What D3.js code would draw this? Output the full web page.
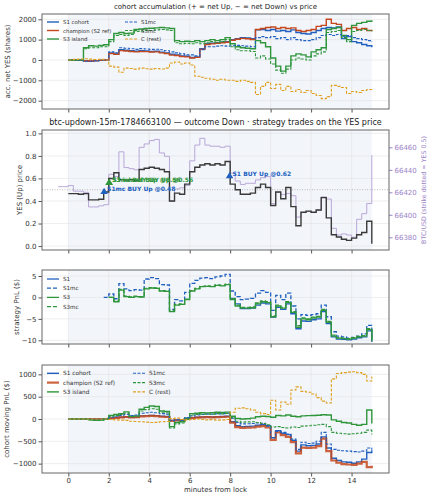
<!DOCTYPE html>
<html>
<head>
<meta charset="utf-8">
<script src="https://cdn.jsdelivr.net/npm/d3@7"></script>
<style>
  body { margin: 0; background: #fff; }
  text { font-family: "DejaVu Sans", sans-serif; }
</style>
</head>
<body>
<script>
// time grids (minutes from lock)
const minutes = d3.range(0, 15.001, 0.25)
const btcMinutes = d3.range(-0.5, 15.001, 0.25)
const pnlMinutes = d3.range(1.75, 15.001, 0.25)

// panel 1: accumulated net YES shares
const accS1 = [0, 0, -20, -50, -60, -40, -10, 0, 350, 300, 500, 480, 450, 430, 450, 440, 420, 430, 380, 350, 280, 250, 200, 180, 120, 150, 550, 800, 820, 850, 880, 900, 1000, 1050, 1100, 1080, 1050, 1480, 1500, 1450, 1500, 1420, 1450, 1400, 1480, 1350, 1300, 1280, 1350, 1450, 1550, 1600, 1580, 1620, 1050, 1150, 900, 850, 760, 700, 620]
const accChampion = [0, 0, -10, -40, -50, -30, -10, 0, 320, 280, 460, 440, 420, 400, 420, 410, 390, 400, 350, 320, 240, 220, 170, 150, 100, 130, 520, 760, 790, 820, 850, 870, 970, 1020, 1060, 1040, 1010, 1500, 1550, 1600, 1620, 1550, 1600, 1550, 1580, 1450, 1400, 1450, 1500, 1650, 1700, 2000, 1800, 1750, 1450, 1550, 1600, 1500, 1550, 1450, 1420]
const accS3 = [0, 0, 0, 600, 700, 680, 720, 750, 1000, 1300, 1350, 1300, 1320, 1500, 1520, 1550, 1560, 1580, 1600, 1580, 1550, 950, 900, 920, 900, 950, 900, 950, 1000, 950, 1000, 1100, 800, 650, 600, 580, 550, 950, 850, 650, 100, -300, -550, -300, 200, 300, 250, 150, 400, 500, 600, 1500, 1550, 1600, 1200, 1000, 1700, 1800, 1850, 1900, 1950]
const accS1mc = [0, 0, -20, -50, -60, -40, -10, 0, 400, 350, 600, 580, 550, 520, 560, 540, 520, 530, 500, 450, 400, 350, 300, 250, 250, 200, 500, 650, 650, 680, 700, 680, 700, 720, 700, 680, 650, 1100, 1150, 1100, 1150, 1050, 1100, 1000, 1100, 1000, 950, 950, 1000, 1100, 1200, 1250, 1200, 1250, 1150, 1200, 1100, 1050, 1000, 950, 900]
const accS3mc = [0, 0, 0, 550, 600, 600, 650, 650, 900, 1200, 1250, 1200, 1250, 1400, 1420, 1450, 1450, 1480, 1500, 1480, 1450, 850, 800, 820, 800, 850, 800, 850, 900, 850, 900, 1000, 650, 500, 450, 450, 420, 100, 200, 50, -200, -500, -650, -450, 0, 100, 50, 0, 200, 300, 400, 1350, 1400, 1450, 1100, 900, 1400, 1450, 1500, 1450, 1400]
const accRest = [0, 30, 50, 60, 40, 20, 30, 0, -300, -350, -600, -400, -420, -450, -400, -430, -450, -420, -440, -400, -150, -100, -200, -150, -250, -800, -850, -900, -950, -1000, -950, -1000, -1000, -1050, -1000, -1050, -1100, -1700, -1300, -1100, -1400, -1200, -1500, -1300, -1550, -1450, -1600, -1500, -1650, -1750, -1900, -1800, -1250, -1300, -1350, -1650, -1550, -1600, -1500, -1450, -1400]

// panel 2: YES price and BTC
const yesPrice = [0.465, 0.465, 0.46, 0.465, 0.41, 0.41, 0.415, 0.48, 0.6, 0.65, 0.59, 0.585, 0.59, 0.58, 0.68, 0.69, 0.7, 0.69, 0.68, 0.66, 0.4, 0.47, 0.46, 0.55, 0.66, 0.7, 0.72, 0.73, 0.72, 0.73, 0.72, 0.75, 0.55, 0.5, 0.46, 0.46, 0.47, 0.52, 0.55, 0.52, 0.36, 0.48, 0.42, 0.52, 0.35, 0.18, 0.3, 0.31, 0.3, 0.32, 0.43, 0.25, 0.1, 0.08, 0.06, 0.05, 0.07, 0.1, 0.12, 0.22, 0.02]
const btcUsd = [66425, 66425, 66426, 66421, 66421, 66420, 66407, 66407, 66408, 66409, 66436, 66434, 66456, 66442, 66441, 66440, 66460, 66463, 66466, 66467, 66455, 66452, 66412, 66423, 66424, 66426, 66448, 66462, 66468, 66462, 66461, 66461, 66460, 66461, 66437, 66430, 66427, 66428, 66428, 66431, 66433, 66434, 66410, 66420, 66418, 66419, 66417, 66398, 66402, 66403, 66402, 66404, 66416, 66414, 66388, 66382, 66383, 66382, 66380, 66396, 66401, 66410, 66453]
const tradeLabels = ['S1mc BUY Up @0.48', 'S3 island BUY Up @0.56', 'S3mc BUY Up @0.56', 'S1 BUY Up @0.62']
const tradeMinutes = [1.77, 2.02, 2.02, 7.97]
const tradePrices = [0.48, 0.56, 0.56, 0.62]
const tradeSide = ['S1', 'S3', 'S3', 'S1']

// panel 3: strategy PnL ($)
const pnlS1 = [null, null, null, null, null, null, null, null, null, null, null, null, null, null, null, null, null, null, null, null, null, null, null, null, null, -0.2, -1.5, -2.6, -2.6, -2.5, -1.8, -1.3, -1.5, -4.6, -2.3, -2.8, -1.5, -3.8, -7.3, -5.5, -5.6, -5.2, -5.0, -3.3, -6.1, -9.2, -9.7, -9.8, -9.9, -9.7, -9.4, -9.2, -7.8, -10.4]
const pnlS1mc = [0, 0.8, -0.3, 3.2, 2.0, 1.6, 1.8, 1.7, 4.3, 4.6, 4.4, 3.0, 2.9, -2.8, -0.5, -0.8, 1.2, 3.3, 4.0, 4.5, 4.6, 4.4, 4.8, 5.0, 5.4, 1.5, 0.2, -0.5, -0.4, -0.2, 1.0, 1.6, 1.2, -3.0, 0.5, -0.5, 1.0, -2.0, -5.0, -4.0, -4.2, -4.0, -3.8, -1.8, -4.5, -8.0, -9.0, -9.2, -9.5, -9.3, -9.0, -8.5, -6.5, -10.0]
const pnlS3 = [null, 0, -1.0, 1.7, 0.2, 0.0, 0.2, 0.1, 2.0, 2.2, 2.1, 1.5, 1.4, -3.3, -1.8, -1.6, -0.5, 1.5, 2.0, 2.5, 2.6, 2.5, 2.8, 2.7, 3.0, -0.5, -2.0, -2.5, -2.5, -2.4, -1.5, -1.0, -1.2, -4.5, -2.0, -2.5, -1.2, -3.5, -7.0, -5.0, -5.2, -4.8, -4.6, -3.0, -5.8, -9.0, -9.5, -9.6, -9.7, -9.5, -9.2, -9.0, -7.5, -10.2]
const pnlS3mc = [null, 0, -0.8, 1.9, 0.3, 0.1, 0.3, 0.2, 2.1, 2.3, 2.2, 1.6, 1.5, -3.1, -1.6, -1.5, -0.4, 1.6, 2.1, 2.6, 2.7, 2.6, 2.9, 2.8, 3.1, -0.3, -1.8, -2.3, -2.3, -2.2, -1.3, -0.8, -1.0, -4.3, -1.8, -2.3, -1.0, -3.3, -6.6, -4.8, -5.0, -4.6, -4.4, -2.8, -5.6, -8.8, -9.4, -9.5, -9.6, -9.4, -9.1, -8.9, -7.3, -10.0]

// panel 4: cohort moving PnL ($)
const movS1 = [0, 0, 0, 0, 0, 0, 0, 0, 20, 30, 40, 50, 40, 45, 70, 75, 80, 75, 60, 55, -30, -20, -25, 10, 30, 40, 45, 50, 45, 50, 55, 60, -60, -150, -170, -165, -160, -140, -130, -150, -420, -260, -320, -350, -480, -720, -580, -600, -590, -560, -400, -650, -880, -930, -960, -970, -990, -960, -900, -750, -700]
const movChampion = [0, 0, 0, 0, 0, 0, 0, 0, 15, 25, 35, 45, 35, 40, 60, 65, 70, 65, 50, 45, -40, -30, -35, 0, 20, 30, 35, 40, 35, 40, 45, 50, -80, -180, -200, -195, -190, -170, -160, -190, -470, -300, -360, -400, -520, -770, -640, -650, -640, -610, -440, -720, -930, -980, -1010, -1020, -1030, -1000, -960, -1080, -1050]
const movS3 = [0, 0, 0, 0, -20, -30, -25, 0, 80, 100, 120, 160, 60, 70, 220, 260, 290, 280, 180, 170, -170, -80, -60, 20, 120, 130, 140, 135, 140, 150, 145, 155, 60, 10, 0, 5, 20, 50, 60, 55, 40, 80, 70, 90, 60, 50, 70, 75, 80, 85, 95, 90, -20, -50, -80, -90, -120, -140, -120, 200, -100]
const movS1mc = [0, 0, 0, 0, 0, 0, 0, 0, 40, 60, 80, 100, 80, 90, 130, 140, 150, 140, 120, 110, -40, -20, -30, 30, 70, 90, 100, 110, 105, 115, 120, 130, 20, -80, -110, -105, -100, -90, -95, -160, -420, -280, -300, -340, -450, -680, -520, -550, -540, -500, -300, -560, -680, -700, -710, -720, -730, -740, -720, -650, -690]
const movS3mc = [0, 0, 0, 0, -20, -30, -25, 0, 60, 80, 100, 130, 50, 60, 180, 210, 230, 220, 150, 140, -200, -110, -90, -10, 90, 100, 110, 105, 110, 120, 115, 125, 30, -50, -70, -65, -60, -80, -100, -130, -180, -170, -190, -200, -180, -190, -160, -150, -140, -130, -120, -170, -300, -320, -330, -340, -330, -320, -300, -250, -350]
const movRest = [0, 0, 0, 0, 0, 0, 0, 0, -10, -20, -25, -30, -50, -55, -60, -70, -80, -75, -60, -55, 10, 20, -10, -20, -10, 0, -10, -20, -15, -25, -20, -10, 150, 240, 250, 230, 200, 150, 120, 100, 420, 200, 380, 330, 650, 720, 620, 600, 560, 480, 400, 360, 900, 1020, 1040, 1050, 1060, 1040, 1000, 850, 950]

const xTicks = [0, 2, 4, 6, 8, 10, 12, 14]

const col = {
  blue: '#2060c0',
  red: '#c4481c',
  green: '#2f963c',
  gold: '#e0a020',
  price: '#3a3a3a',
  btc: '#b9a7d8',
  btcAxis: '#9b84c8'
}

const W = 429, H = 500
const left = 42, right = 389

const svg = d3.select('body').append('svg')
  .attr('width', W)
  .attr('height', H)

const x = d3.scaleLinear().domain([-1.3, 15.85]).range([left, right])

const makePanel = (id, top, bottom, yDomain, yTicks, fmt, yLabel, labelX, showX) => {
  const y = d3.scaleLinear().domain(yDomain).range([bottom, top])
  const g = svg.append('g')

  svg.append('clipPath').attr('id', id)
    .append('rect')
    .attr('x', left).attr('y', top)
    .attr('width', right - left).attr('height', bottom - top)

  // lock window shading
  g.append('rect')
    .attr('x', x(0)).attr('y', top)
    .attr('width', x(15) - x(0)).attr('height', bottom - top)
    .attr('fill', '#f2f5fa')

  // grid
  g.selectAll('.vg').data(xTicks).enter().append('line')
    .attr('x1', d => x(d)).attr('x2', d => x(d))
    .attr('y1', top).attr('y2', bottom)
    .attr('stroke', '#e3e3e3').attr('stroke-width', 0.6)
  g.selectAll('.hg').data(yTicks).enter().append('line')
    .attr('x1', left).attr('x2', right)
    .attr('y1', d => y(d)).attr('y2', d => y(d))
    .attr('stroke', '#e3e3e3').attr('stroke-width', 0.6)

  const yAxis = d3.axisLeft(y).tickValues(yTicks).tickFormat(fmt).tickSize(3.5).tickPadding(2)
  const ya = g.append('g').attr('transform', 'translate(' + left + ',0)').call(yAxis)
  ya.select('.domain').remove()
  ya.selectAll('text').attr('font-size', 7).attr('fill', '#333')
  ya.selectAll('line').attr('stroke', '#555')

  const xAxis = d3.axisBottom(x).tickValues(xTicks).tickSize(3.5).tickPadding(2)
    .tickFormat(showX ? d3.format('d') : '')
  const xa = g.append('g').attr('transform', 'translate(0,' + bottom + ')').call(xAxis)
  xa.select('.domain').remove()
  xa.selectAll('text').attr('font-size', 7).attr('fill', '#333')
  xa.selectAll('line').attr('stroke', '#555')

  g.append('text')
    .attr('transform', 'translate(' + labelX + ',' + (top + bottom) / 2 + ') rotate(-90)')
    .attr('text-anchor', 'middle')
    .attr('dominant-baseline', 'central')
    .attr('font-size', 7)
    .attr('fill', '#333')
    .text(yLabel)

  const plot = svg.append('g').attr('clip-path', 'url(#' + id + ')')

  const frame = () => svg.append('rect')
    .attr('x', left).attr('y', top)
    .attr('width', right - left).attr('height', bottom - top)
    .attr('fill', 'none').attr('stroke', '#666').attr('stroke-width', 1)

  return { y, plot, frame }
}

const drawLine = (plot, xs, ys, y, color, width, dash, opacity) => {
  const line = d3.line()
    .defined(d => d[1] != null)
    .x(d => x(d[0]))
    .y(d => y(d[1]))
    .curve(d3.curveStepAfter)
  plot.append('path')
    .datum(xs.map((t, i) => [t, ys[i]]))
    .attr('d', line)
    .attr('fill', 'none')
    .attr('stroke', color)
    .attr('stroke-width', width)
    .attr('stroke-dasharray', dash || null)
    .attr('opacity', opacity || 1)
}

const legend = (items, x0, y0, colW, rowH, perCol, fs) => {
  items.forEach((it, i) => {
    const cx = x0 + Math.floor(i / perCol) * colW
    const cy = y0 + (i % perCol) * rowH
    svg.append('line')
      .attr('x1', cx).attr('x2', cx + 12)
      .attr('y1', cy).attr('y2', cy)
      .attr('stroke', it.color)
      .attr('stroke-width', it.width)
      .attr('stroke-dasharray', it.dash || null)
      .attr('opacity', it.opacity || 1)
    svg.append('text')
      .attr('x', cx + 16).attr('y', cy)
      .attr('dominant-baseline', 'central')
      .attr('font-size', fs)
      .attr('fill', '#333')
      .text(it.label)
  })
}

// ---------- panel 1
svg.append('text')
  .attr('x', (left + right) / 2).attr('y', 7)
  .attr('text-anchor', 'middle').attr('dominant-baseline', 'central')
  .attr('font-size', 7).attr('fill', '#222')
  .text('cohort accumulation (+ = net Up, \u2212 = net Down) vs price')

const p1 = makePanel('c1', 14, 109, [-2410, 2260], [-2000, -1000, 0, 1000, 2000], d3.format('d'), 'acc. net YES (shares)', 8, false)
const accSeries = [
  { label: 'S1 cohort', ys: accS1, color: col.blue, width: 1.4 },
  { label: 'champion (S2 ref)', ys: accChampion, color: col.red, width: 1.4 },
  { label: 'S3 island', ys: accS3, color: col.green, width: 1.4 },
  { label: 'S1mc', ys: accS1mc, color: col.blue, width: 1.1, dash: '3,1.5' },
  { label: 'S3mc', ys: accS3mc, color: col.green, width: 1.1, dash: '3,1.5' },
  { label: 'C (rest)', ys: accRest, color: col.gold, width: 1.1, dash: '3,1.5' }
]
accSeries.forEach(s => drawLine(p1.plot, minutes, s.ys, p1.y, s.color, s.width, s.dash))
p1.frame()
legend(accSeries, 47, 22, 78, 8.5, 3, 5.4)

// ---------- panel 2
svg.append('text')
  .attr('x', (left + right) / 2).attr('y', 122.5)
  .attr('text-anchor', 'middle').attr('dominant-baseline', 'central')
  .attr('font-size', 8).attr('fill', '#222')
  .text('btc-updown-15m-1784663100 \u2014 outcome Down \u00b7 strategy trades on the YES price')

const p2 = makePanel('c2', 130, 250, [-0.035, 1.03], [0, 0.2, 0.4, 0.6, 0.8, 1.0], d3.format('.1f'), 'YES (Up) price', 20, false)
const yBtc = d3.scaleLinear().domain([66368.7, 66475.4]).range([250, 130])

drawLine(p2.plot, btcMinutes, btcUsd, yBtc, col.btc, 1)
p2.plot.append('line')
  .attr('x1', left).attr('x2', right)
  .attr('y1', p2.y(0.5)).attr('y2', p2.y(0.5))
  .attr('stroke', '#aaa').attr('stroke-width', 0.8)
  .attr('stroke-dasharray', '1,1.5')
drawLine(p2.plot, minutes, yesPrice, p2.y, col.price, 1.4)

const tri = d3.symbol().type(d3.symbolTriangle).size(24)
tradeLabels.forEach((lab, i) => {
  const c = tradeSide[i] === 'S1' ? col.blue : col.green
  const px = x(tradeMinutes[i]), py = p2.y(tradePrices[i])
  svg.append('path').attr('d', tri).attr('transform', 'translate(' + px + ',' + py + ')').attr('fill', c)
  svg.append('text')
    .attr('x', px + 3).attr('y', py - 3)
    .attr('dominant-baseline', 'central')
    .attr('font-size', 6).attr('font-weight', 'bold')
    .attr('fill', c)
    .text(lab)
})

const rAxis = d3.axisRight(yBtc).tickValues([66380, 66400, 66420, 66440, 66460]).tickFormat(d3.format('d')).tickSize(3.5).tickPadding(2)
const ra = svg.append('g').attr('transform', 'translate(' + right + ',0)').call(rAxis)
ra.select('.domain').remove()
ra.selectAll('text').attr('font-size', 7).attr('fill', col.btcAxis)
ra.selectAll('line').attr('stroke', col.btcAxis)
svg.append('text')
  .attr('transform', 'translate(423,190) rotate(-90)')
  .attr('text-anchor', 'middle').attr('dominant-baseline', 'central')
  .attr('font-size', 6.3).attr('fill', col.btcAxis)
  .text('BTC/USD (strike dotted = YES 0.5)')
p2.frame()

// ---------- panel 3
const p3 = makePanel('c3', 270, 344, [-10.86, 6.4], [-10, -5, 0, 5], d3.format('d'), 'strategy PnL ($)', 17, false)
const pnlSeries = [
  { label: 'S1', ys: pnlS1, color: col.blue, width: 1.3 },
  { label: 'S1mc', ys: pnlS1mc, color: col.blue, width: 1.3, dash: '4,2' },
  { label: 'S3', ys: pnlS3, color: col.green, width: 1.3 },
  { label: 'S3mc', ys: pnlS3mc, color: col.green, width: 1.3, dash: '4,2' }
]
pnlSeries.forEach(s => drawLine(p3.plot, pnlMinutes, s.ys, p3.y, s.color, s.width, s.dash))
p3.frame()
legend(pnlSeries, 47, 279, 0, 9.2, 4, 5.6)

// ---------- panel 4
const p4 = makePanel('c4', 365, 473, [-1210, 1210], [-1000, -500, 0, 500, 1000], d3.format('d'), 'cohort moving PnL ($)', 7, true)
const movSeries = [
  { label: 'S1 cohort', ys: movS1, color: col.blue, width: 1.4 },
  { label: 'champion (S2 ref)', ys: movChampion, color: col.red, width: 2.2, opacity: 0.85 },
  { label: 'S3 island', ys: movS3, color: col.green, width: 1.4 },
  { label: 'S1mc', ys: movS1mc, color: col.blue, width: 1.1, dash: '3,1.5' },
  { label: 'S3mc', ys: movS3mc, color: col.green, width: 1.1, dash: '3,1.5' },
  { label: 'C (rest)', ys: movRest, color: col.gold, width: 1.1, dash: '3,1.5' }
]
movSeries.forEach(s => drawLine(p4.plot, minutes, s.ys, p4.y, s.color, s.width, s.dash, s.opacity))
p4.frame()
legend(movSeries, 47, 373.3, 86, 9.3, 3, 5.8)

svg.append('text')
  .attr('x', (left + right) / 2).attr('y', 490)
  .attr('text-anchor', 'middle').attr('dominant-baseline', 'central')
  .attr('font-size', 7).attr('fill', '#333')
  .text('minutes from lock')
</script>
</body>
</html>
